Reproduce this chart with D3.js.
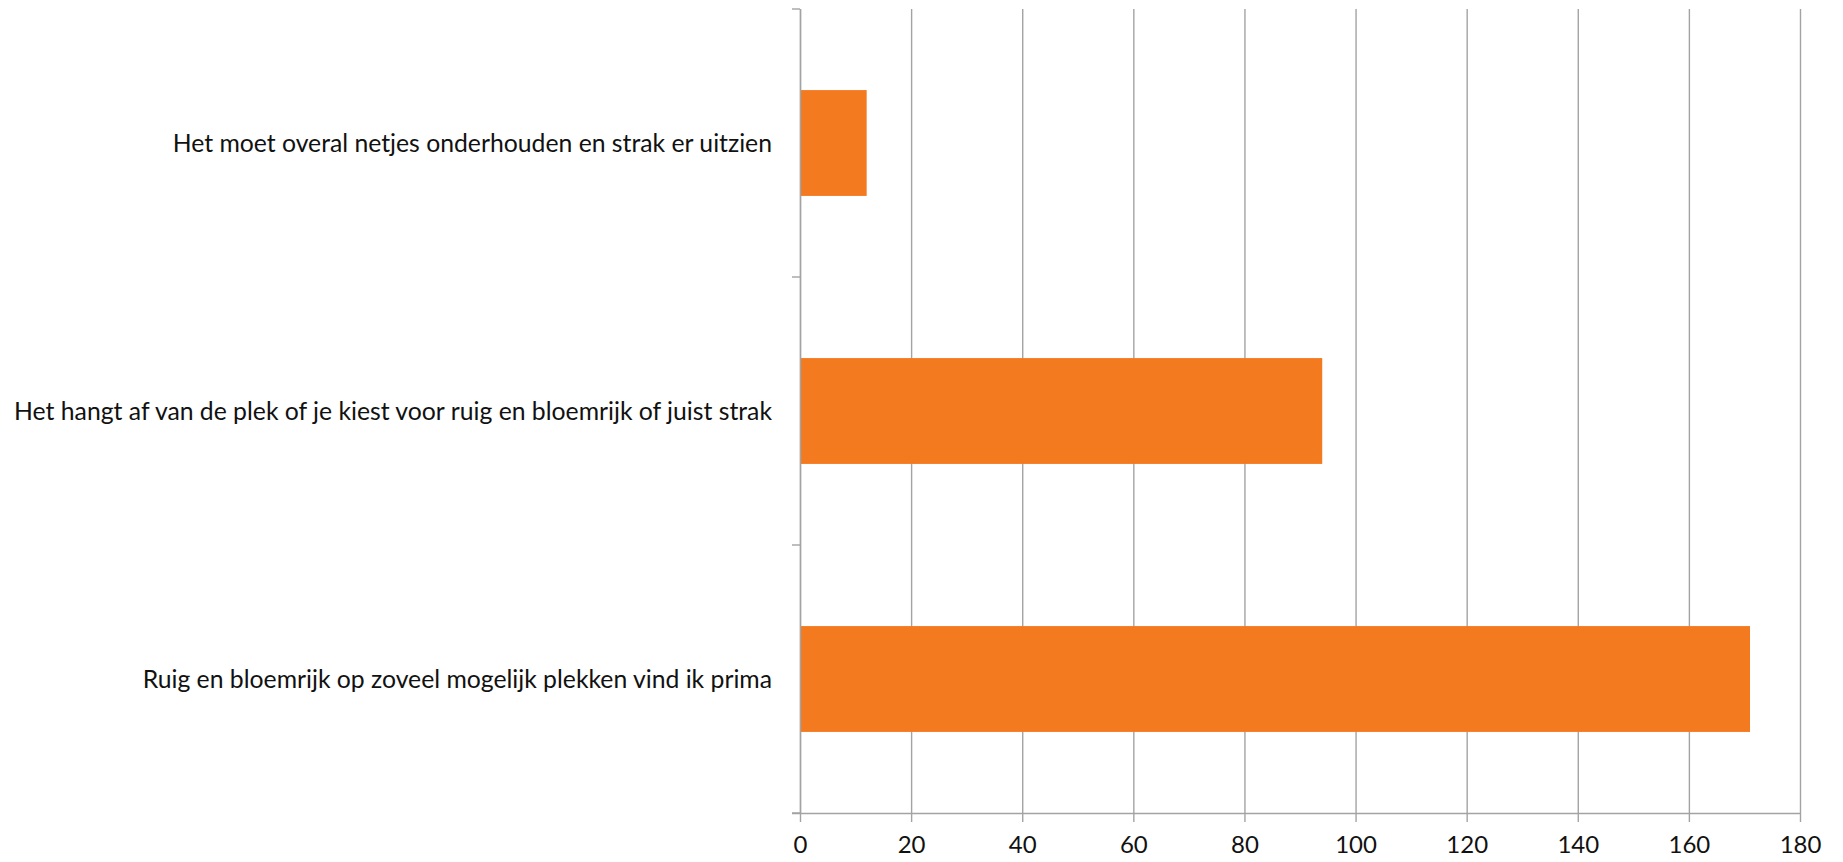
<!DOCTYPE html>
<html>
<head>
<meta charset="utf-8">
<script src="https://cdn.jsdelivr.net/npm/d3@7"></script>
<style>
  html, body { margin: 0; padding: 0; background: #ffffff; }
  svg { display: block; }
  text { font-family: Lato, "Open Sans", sans-serif; fill: #111; }
</style>
</head>
<body>
<svg id="chart" width="1843" height="862"></svg>
<script>
const categories = [
  "Het moet overal netjes onderhouden en strak er uitzien",
  "Het hangt af van de plek of je kiest voor ruig en bloemrijk of juist strak",
  "Ruig en bloemrijk op zoveel mogelijk plekken vind ik prima"
];
const values = [12, 94, 171];
const xTicks = [0, 20, 40, 60, 80, 100, 120, 140, 160, 180];

(function () {
const svg = d3.select("#chart");
const mLeft = 800, mRight = 1800, mTop = 9, mBottom = 813;
const gridColor = "#a3a3a3";
const barColor = "#F47A20";

const x = d3.scaleLinear().domain([0, 180]).range([mLeft, mRight]);
const y = d3.scaleBand().domain(categories).range([mTop, mBottom]).paddingInner(0).paddingOuter(0);
const barFrac = 0.395;

// gridlines
const grid = svg.append("g").attr("transform", `translate(0,${mBottom})`)
  .call(d3.axisBottom(x).tickValues(xTicks).tickSize(-(mBottom - mTop)).tickFormat(""));
grid.select(".domain").remove();
grid.selectAll("line").attr("stroke", gridColor).attr("stroke-width", 1.4);

// bars
svg.append("g").selectAll("rect").data(categories).join("rect")
  .attr("x", x(0))
  .attr("y", (d) => y(d) + y.bandwidth() * (1 - barFrac) / 2)
  .attr("width", (d, i) => x(values[i]) - x(0))
  .attr("height", y.bandwidth() * barFrac)
  .attr("fill", barColor);

// x axis
const xAxis = svg.append("g").attr("transform", `translate(0,${mBottom})`)
  .call(d3.axisBottom(x).tickValues(xTicks).tickSize(9).tickSizeOuter(0).tickPadding(14).tickFormat(d3.format("d")));
xAxis.select(".domain").attr("stroke", gridColor).attr("stroke-width", 1.4)
  .attr("d", `M${mLeft - 8},0.5H${mRight}`);
xAxis.selectAll(".tick line").attr("stroke", gridColor).attr("stroke-width", 1.4);
xAxis.selectAll(".tick text")
  .style("font-family", "Lato, 'Open Sans', sans-serif")
  .style("font-size", "24px").attr("fill", "#111");

// y axis line and boundary ticks
const yAxis = svg.append("g").attr("transform", `translate(${mLeft},0)`)
  .call(d3.axisLeft(y).tickSize(0).tickFormat(""));
yAxis.select(".domain").attr("stroke", gridColor).attr("stroke-width", 1.4)
  .attr("d", `M0.5,${mTop}V${mBottom}`);
yAxis.selectAll(".tick").remove();
const bounds = categories.map((c) => y(c)).concat([mBottom]);
yAxis.selectAll("line.bound").data(bounds).join("line")
  .attr("class", "bound")
  .attr("x1", -8).attr("x2", 0)
  .attr("y1", (d) => d).attr("y2", (d) => d)
  .attr("stroke", gridColor).attr("stroke-width", 1.4);

// category labels
const labels = svg.append("g").selectAll("text").data(categories).join("text")
  .attr("x", 772)
  .attr("text-anchor", "end")
  .style("font-size", "21px")
  .text((d) => d);
let maxLen = 0;
labels.each(function () { maxLen = Math.max(maxLen, this.getComputedTextLength()); });
const fs = 21 * 758 / maxLen;
labels.style("font-size", fs + "px")
  .attr("y", (d) => y(d) + y.bandwidth() / 2 + fs * 0.36);
})();
</script>
</body>
</html>
